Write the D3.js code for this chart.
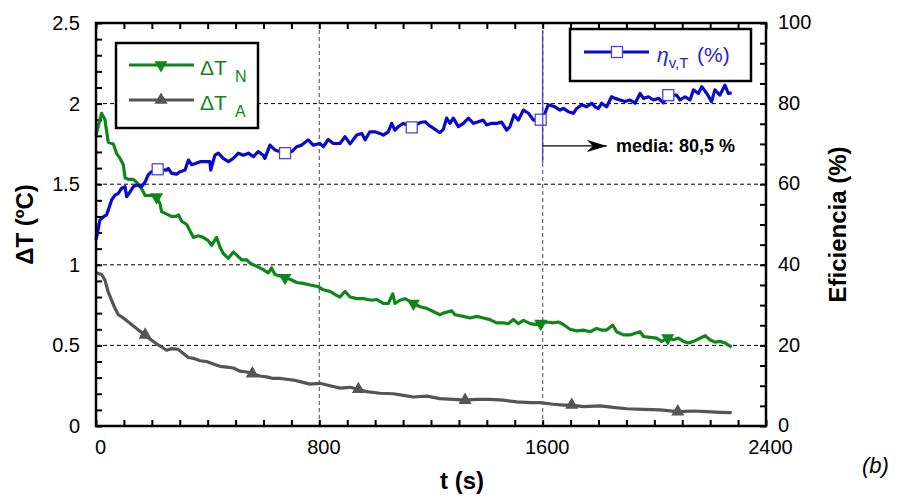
<!DOCTYPE html>
<html>
<head>
<meta charset="utf-8">
<script src="https://cdn.jsdelivr.net/npm/d3@7"></script>
<style>
  body { margin: 0; background: #fff; }
  svg { display: block; font-family: "Liberation Sans", Arial, sans-serif; }
</style>
</head>
<body>
<svg id="chart" width="901" height="498"></svg>
<script>
// ---- data: [t (s), value] ----
const deltaTN = [[0,1.80],[8,1.86],[20,1.94],[32,1.90],[44,1.76],[62,1.75],[74,1.69],[86,1.66],[98,1.62],[104,1.54],[116,1.53],[134,1.53],[152,1.50],[164,1.47],[176,1.43],[199,1.43],[217,1.42],[229,1.38],[235,1.33],[259,1.31],[271,1.30],[287,1.30],[295,1.31],[307,1.27],[325,1.25],[337,1.21],[349,1.17],[366,1.18],[384,1.17],[402,1.15],[414,1.12],[432,1.17],[444,1.11],[456,1.07],[474,1.04],[492,1.08],[504,1.06],[522,1.03],[540,1.03],[552,1.01],[576,0.99],[599,0.97],[617,0.95],[629,0.98],[641,0.94],[659,0.93],[677,0.92],[695,0.91],[719,0.89],[742,0.885],[767,0.875],[796,0.865],[814,0.845],[838,0.835],[862,0.81],[874,0.80],[892,0.835],[910,0.80],[934,0.79],[957,0.79],[988,0.78],[1005,0.785],[1029,0.76],[1047,0.76],[1063,0.82],[1071,0.76],[1089,0.78],[1107,0.79],[1137,0.76],[1161,0.74],[1185,0.73],[1208,0.71],[1232,0.69],[1244,0.70],[1274,0.715],[1286,0.69],[1316,0.68],[1340,0.67],[1364,0.68],[1387,0.67],[1411,0.66],[1435,0.64],[1459,0.64],[1477,0.635],[1495,0.66],[1513,0.635],[1531,0.655],[1555,0.635],[1573,0.63],[1593,0.635],[1614,0.645],[1638,0.64],[1656,0.645],[1674,0.63],[1698,0.60],[1722,0.59],[1746,0.595],[1770,0.585],[1793,0.605],[1811,0.595],[1829,0.595],[1851,0.625],[1865,0.585],[1889,0.565],[1913,0.565],[1931,0.575],[1949,0.585],[1961,0.555],[1985,0.55],[2008,0.545],[2026,0.525],[2048,0.545],[2068,0.535],[2086,0.545],[2104,0.525],[2122,0.515],[2140,0.525],[2158,0.54],[2182,0.56],[2199,0.535],[2217,0.52],[2235,0.525],[2253,0.515],[2277,0.49]]

const deltaTA = [[0,0.95],[20,0.94],[32,0.905],[44,0.83],[56,0.78],[68,0.73],[80,0.69],[98,0.67],[116,0.645],[134,0.62],[152,0.595],[176,0.565],[193,0.54],[217,0.51],[235,0.49],[253,0.47],[271,0.48],[295,0.475],[313,0.45],[331,0.425],[349,0.42],[373,0.405],[396,0.40],[420,0.385],[444,0.37],[468,0.365],[492,0.36],[516,0.34],[540,0.335],[560,0.325],[587,0.31],[611,0.305],[635,0.295],[659,0.295],[683,0.29],[707,0.285],[731,0.275],[767,0.26],[802,0.265],[838,0.25],[874,0.235],[910,0.24],[940,0.228],[970,0.213],[1017,0.203],[1065,0.20],[1101,0.19],[1137,0.18],[1185,0.185],[1232,0.17],[1280,0.165],[1322,0.16],[1364,0.165],[1411,0.165],[1459,0.16],[1507,0.15],[1555,0.145],[1590,0.145],[1638,0.135],[1674,0.13],[1704,0.13],[1746,0.12],[1805,0.125],[1853,0.115],[1901,0.107],[1961,0.103],[2020,0.10],[2084,0.089],[2140,0.093],[2188,0.089],[2235,0.085],[2277,0.083]]

const efficiency = [[0,46.2],[5,47.8],[14,51.1],[26,51.9],[38,52.4],[44,53.6],[56,56.1],[68,57.3],[80,57.7],[92,59.0],[104,59.4],[110,56.9],[122,58.1],[134,59.4],[146,59.8],[164,59.4],[176,60.6],[187,62.3],[199,63.1],[221,63.7],[253,63.5],[259,63.9],[271,62.7],[289,62.5],[301,63.1],[319,63.5],[331,66.0],[343,64.8],[358,65.2],[373,65.6],[390,65.6],[408,65.6],[411,63.5],[426,67.2],[438,67.7],[456,66.4],[474,65.6],[492,66.4],[510,67.7],[528,67.2],[546,67.7],[564,66.8],[581,68.1],[599,67.2],[605,66.4],[623,69.7],[641,68.5],[677,67.7],[701,68.1],[719,69.3],[737,69.7],[760,71.0],[778,69.7],[802,70.1],[814,69.3],[832,71.1],[850,70.1],[874,70.1],[892,71.8],[910,70.0],[934,72.2],[952,72.6],[964,71.0],[981,73.0],[999,73.0],[1017,72.6],[1029,72.2],[1047,73.0],[1059,75.1],[1071,73.4],[1083,74.3],[1101,75.1],[1131,74.1],[1161,75.3],[1179,75.5],[1191,74.7],[1208,73.9],[1232,72.8],[1244,73.6],[1256,76.4],[1268,75.1],[1280,76.4],[1298,74.3],[1316,75.1],[1334,76.4],[1352,75.1],[1370,75.5],[1387,75.9],[1399,74.7],[1417,75.1],[1435,75.1],[1453,75.4],[1471,73.4],[1483,74.3],[1497,77.2],[1513,75.9],[1531,78.4],[1549,77.6],[1567,75.9],[1593,76.0],[1608,77.6],[1620,79.7],[1644,79.2],[1662,78.4],[1674,78.8],[1692,78.0],[1710,77.6],[1722,78.8],[1740,79.7],[1758,79.2],[1776,80.1],[1788,79.2],[1800,78.8],[1811,80.1],[1829,79.2],[1847,81.7],[1859,81.3],[1877,80.9],[1895,80.5],[1913,80.9],[1931,80.1],[1949,82.5],[1961,81.3],[1979,81.7],[1997,80.9],[2015,81.3],[2032,80.2],[2050,82.1],[2080,82.1],[2092,80.9],[2110,81.7],[2128,80.9],[2140,83.4],[2158,82.5],[2170,84.2],[2188,82.5],[2205,80.5],[2217,83.4],[2235,82.1],[2253,84.6],[2265,82.5],[2277,82.7]]

// times that carry a symbol on each curve
const markTimesN = [217, 677, 1137, 1593, 2048]
const markTimesA = [176, 560, 940, 1322, 1704, 2084]
const markTimesE = [221, 677, 1131, 1593, 2050]

const xTicks = [0, 800, 1600, 2400]
const mediaT = 1600
const mediaLabel = 'media: 80,5 %'

// ---- layout ----
const svg = d3.select('#chart')
const plotL = 96, plotR = 766, plotT = 23, plotB = 426
const GREEN = '#0f861a', GRAY = '#555555', BLUE = '#0808d0'

const x = d3.scaleLinear().domain([0, 2400]).range([plotL, plotR])
const yL = d3.scaleLinear().domain([0, 2.5]).range([plotB, plotT])
const yR = d3.scaleLinear().domain([0, 100]).range([plotB, plotT])

svg.append('rect').attr('width', 901).attr('height', 498).attr('fill', '#fff')

// + -- grid --------------------------------------------------------------- +
svg.append('g').selectAll('line')
  .data([0.5, 1, 1.5, 2])
  .join('line')
  .attr('x1', plotL).attr('x2', plotR)
  .attr('y1', d => yL(d)).attr('y2', d => yL(d))
  .attr('stroke', '#000').attr('stroke-width', 1).attr('stroke-dasharray', '4,3')

svg.append('g').selectAll('line')
  .data([800, 1600])
  .join('line')
  .attr('x1', d => x(d)).attr('x2', d => x(d))
  .attr('y1', plotT).attr('y2', plotB)
  .attr('stroke', '#666').attr('stroke-width', 1.2).attr('stroke-dasharray', '4,3')

// + -- axes (ticks point inward) ------------------------------------------- +
function styleAxis (g, size) {
  g.select('.domain').remove()
  g.selectAll('.tick line').attr('stroke', '#000').attr('stroke-width', 2)
  g.selectAll('.tick text').attr('fill', '#000').style('font-size', size + 'px')
    .style('font-family', '"Liberation Sans", Arial, sans-serif')
}

const fmtL = d => (Math.round(d * 10) % 5 === 0) ? String(+d.toFixed(1)) : ''
svg.append('g').attr('transform', 'translate(' + plotL + ',0)')
  .call(d3.axisLeft(yL).tickValues(d3.range(0, 26).map(i => i / 10)).tickSize(-6).tickPadding(16).tickFormat(fmtL))
  .call(g => styleAxis(g, 20))

svg.append('g').attr('transform', 'translate(' + plotR + ',0)')
  .call(d3.axisRight(yR).tickValues(d3.range(0, 101, 5)).tickSize(-6).tickPadding(12)
    .tickFormat(d => d % 20 === 0 ? d : ''))
  .call(g => styleAxis(g, 20))
  .call(g => g.selectAll('.tick text').attr('dy', '0.28em'))

svg.append('g').attr('transform', 'translate(0,' + plotB + ')')
  .call(d3.axisBottom(x).tickValues(d3.range(0, 2401, 100)).tickSize(-6).tickPadding(14)
    .tickFormat(d => xTicks.includes(d) ? d : ''))
  .call(g => styleAxis(g, 20))
  .call(g => g.selectAll('.tick text').attr('dx', 4))

svg.append('g').attr('transform', 'translate(0,' + plotT + ')')
  .call(d3.axisTop(x).tickValues(d3.range(0, 2401, 100)).tickSize(-6).tickFormat(''))
  .call(g => styleAxis(g, 20))

// + -- curves ---------------------------------------------------------------- +
const lineL = d3.line().x(d => x(d[0])).y(d => yL(d[1]))
const lineR = d3.line().x(d => x(d[0])).y(d => yR(d[1]))
const plot = svg.append('g')

plot.append('path').datum(deltaTA).attr('d', lineL)
  .attr('fill', 'none').attr('stroke', GRAY).attr('stroke-width', 3.2).attr('stroke-linejoin', 'round')
plot.append('path').datum(deltaTN).attr('d', lineL)
  .attr('fill', 'none').attr('stroke', GREEN).attr('stroke-width', 3.2).attr('stroke-linejoin', 'round')
plot.append('path').datum(efficiency).attr('d', lineR)
  .attr('fill', 'none').attr('stroke', BLUE).attr('stroke-width', 3.2).attr('stroke-linejoin', 'round')

const pick = (series, times) => series.filter(d => times.includes(d[0]))
const triDown = d3.symbol().type(d3.symbolTriangle).size(75)

plot.append('g').selectAll('path')
  .data(pick(deltaTN, markTimesN))
  .join('path')
  .attr('d', triDown)
  .attr('transform', d => 'translate(' + x(d[0]) + ',' + yL(d[1]) + ') rotate(180)')
  .attr('fill', GREEN)

plot.append('g').selectAll('path')
  .data(pick(deltaTA, markTimesA))
  .join('path')
  .attr('d', triDown)
  .attr('transform', d => 'translate(' + x(d[0]) + ',' + yL(d[1]) + ')')
  .attr('fill', GRAY)

plot.append('g').selectAll('rect')
  .data(pick(efficiency, markTimesE))
  .join('rect')
  .attr('x', d => x(d[0]) - 5.5).attr('y', d => yR(d[1]) - 5.5)
  .attr('width', 11).attr('height', 11)
  .attr('fill', '#fff').attr('stroke', '#4848e0').attr('stroke-width', 1.3)

// + -- media annotation --------------------------------------------------------- +
svg.append('line')
  .attr('x1', x(mediaT)).attr('x2', x(mediaT))
  .attr('y1', yR(98)).attr('y2', yR(65.3))
  .attr('stroke', '#2a2ad8').attr('stroke-width', 1.5).attr('opacity', 0.75)

svg.append('defs').append('marker')
  .attr('id', 'arrow').attr('viewBox', '0 0 20 12')
  .attr('refX', 20).attr('refY', 6)
  .attr('markerWidth', 20).attr('markerHeight', 12)
  .attr('markerUnits', 'userSpaceOnUse').attr('orient', 'auto')
  .append('path').attr('d', 'M0,0 L20,6 L0,12 L6,6 Z').attr('fill', '#000')

svg.append('line')
  .attr('x1', x(mediaT)).attr('x2', x(1830))
  .attr('y1', yR(69.5)).attr('y2', yR(69.5))
  .attr('stroke', '#000').attr('stroke-width', 1.2)
  .attr('marker-end', 'url(#arrow)')

svg.append('text')
  .attr('x', 616).attr('y', yR(69.5) + 6.5)
  .style('font-size', '18px').style('font-weight', 700)
  .text(mediaLabel)

// + -- legends -------------------------------------------------------------------- +
const leg1 = svg.append('g')
leg1.append('rect').attr('x', 116).attr('y', 43).attr('width', 142).attr('height', 85)
  .attr('fill', '#fff').attr('stroke', '#000').attr('stroke-width', 2.5)

const legRows = [
  {y: 65, color: GREEN, sub: 'N', rot: 180},
  {y: 100, color: GRAY, sub: 'A', rot: 0}
]
legRows.forEach(r => {
  leg1.append('line').attr('x1', 129).attr('x2', 194).attr('y1', r.y).attr('y2', r.y)
    .attr('stroke', r.color).attr('stroke-width', 3)
  leg1.append('path').attr('d', triDown)
    .attr('transform', 'translate(161,' + r.y + ') rotate(' + r.rot + ')')
    .attr('fill', r.color)
  const t = leg1.append('text').attr('x', 200).attr('y', r.y + 10)
    .attr('fill', GREEN).style('font-size', '21px')
  t.append('tspan').text('ΔT')
  t.append('tspan').attr('x', 235).attr('dy', 7).style('font-size', '16px').text(r.sub)
})

const leg2 = svg.append('g')
leg2.append('rect').attr('x', 570).attr('y', 29).attr('width', 181).attr('height', 52)
  .attr('fill', '#fff').attr('stroke', '#000').attr('stroke-width', 2.5)
leg2.append('line').attr('x1', 584).attr('x2', 649).attr('y1', 52).attr('y2', 52)
  .attr('stroke', BLUE).attr('stroke-width', 3)
leg2.append('rect').attr('x', 611.5).attr('y', 46.5).attr('width', 11).attr('height', 11)
  .attr('fill', '#fff').attr('stroke', '#4848e0').attr('stroke-width', 1.3)
const lt = leg2.append('text').attr('x', 657).attr('y', 62).attr('fill', '#2222d4').style('font-size', '21px')
lt.append('tspan').style('font-style', 'italic').text('η')
lt.append('tspan').attr('dy', 6).style('font-size', '15px').text('v,T')
lt.append('tspan').attr('x', 697).attr('dy', -6).text('(%)')

// + -- titles ---------------------------------------------------------------------- +
svg.append('text')
  .attr('transform', 'translate(33,' + ((plotT + plotB) / 2) + ') rotate(-90)')
  .attr('text-anchor', 'middle')
  .style('font-size', '24px').style('font-weight', 700)
  .text('ΔT (ºC)')

svg.append('text')
  .attr('transform', 'translate(846,' + ((plotT + plotB) / 2) + ') rotate(-90)')
  .attr('text-anchor', 'middle')
  .style('font-size', '24px').style('font-weight', 700)
  .text('Eficiencia (%)')

svg.append('text')
  .attr('x', 462).attr('y', 489)
  .attr('text-anchor', 'middle')
  .style('font-size', '24px').style('font-weight', 700)
  .text('t (s)')

svg.append('text')
  .attr('x', 862).attr('y', 473)
  .style('font-size', '22px').style('font-style', 'italic')
  .text('(b)')

// frame on top
svg.append('rect')
  .attr('x', plotL).attr('y', plotT).attr('width', plotR - plotL).attr('height', plotB - plotT)
  .attr('fill', 'none').attr('stroke', '#000').attr('stroke-width', 2.5)
</script>
</body>
</html>
